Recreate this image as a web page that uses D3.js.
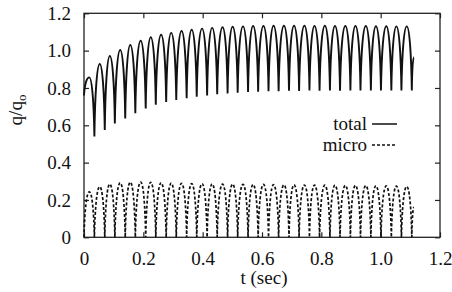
<!DOCTYPE html>
<html>
<head>
<meta charset="utf-8">
<script src="https://cdn.jsdelivr.net/npm/d3@7"></script>
<style>
  body { margin: 0; background: #fff; }
  svg text { font-family: 'Liberation Serif', 'Times New Roman', 'DejaVu Serif', serif; fill: #111; }
</style>
</head>
<body>
<div id="graf"></div>
<script>
// Datos
const xTicks = [0, 0.2, 0.4, 0.6, 0.8, 1.0, 1.2]
const xTickLabels = ["0", "0.2", "0.4", "0.6", "0.8", "1.0", "1.2"]
const yTicks = [0, 0.2, 0.4, 0.6, 0.8, 1.0, 1.2]
const yTickLabels = ["0", "0.2", "0.4", "0.6", "0.8", "1.0", "1.2"]

// tiempos de los máximos y mínimos de cada ciclo
const peakT = [0.018, 0.053, 0.087, 0.122, 0.156, 0.191, 0.225, 0.260, 0.294, 0.329, 0.363, 0.398,
  0.432, 0.467, 0.501, 0.536, 0.570, 0.605, 0.639, 0.674, 0.708, 0.743, 0.777, 0.812,
  0.846, 0.881, 0.915, 0.950, 0.984, 1.019, 1.053, 1.088]
const troughT = [0.035, 0.070, 0.104, 0.139, 0.173, 0.208, 0.242, 0.277, 0.311, 0.346, 0.380, 0.415,
  0.449, 0.484, 0.518, 0.553, 0.587, 0.622, 0.656, 0.691, 0.725, 0.760, 0.794, 0.829,
  0.863, 0.898, 0.932, 0.967, 1.001, 1.036, 1.070, 1.105]

// total
const totalStart = [0, 0.76]
const totalPeak = [0.857, 0.928, 0.971, 1.003, 1.030, 1.053, 1.072, 1.085, 1.095, 1.105, 1.112, 1.118,
  1.122, 1.125, 1.128, 1.130, 1.132, 1.132, 1.133, 1.133, 1.133, 1.133, 1.132, 1.133,
  1.132, 1.132, 1.132, 1.132, 1.131, 1.131, 1.130, 1.130]
const totalTrough = [0.540, 0.575, 0.610, 0.637, 0.664, 0.690, 0.710, 0.725, 0.735, 0.745, 0.753, 0.760,
  0.766, 0.771, 0.775, 0.778, 0.780, 0.782, 0.783, 0.785, 0.784, 0.786, 0.785, 0.786,
  0.785, 0.787, 0.786, 0.787, 0.786, 0.787, 0.786, 0.786]
const totalEnd = [1.112, 0.965]

// micro
const microStart = [0, 0]
const microPeak = [0.244, 0.271, 0.285, 0.292, 0.295, 0.296, 0.295, 0.292, 0.290, 0.289, 0.288, 0.287,
  0.286, 0.285, 0.285, 0.284, 0.283, 0.283, 0.282, 0.281, 0.281, 0.280, 0.280, 0.279,
  0.279, 0.278, 0.278, 0.277, 0.276, 0.275, 0.274, 0.272]
const microTrough = [0, 0, 0, 0, 0, 0, 0, 0, 0, 0, 0, 0, 0, 0, 0, 0,
  0, 0, 0, 0, 0, 0, 0, 0, 0, 0, 0, 0, 0, 0, 0, 0]
const microEnd = [1.112, 0.16]

// Configuración de tamaños
const ancho = 452
const alto = 292
const mIzq = 84, mDer = 440, mSup = 13.3, mInf = 237.3
const fuente = "'Liberation Serif', 'Times New Roman', 'DejaVu Serif', serif"

const svg = d3.select("#graf")
  .append("svg")
  .attr("width", ancho)
  .attr("height", alto)

const x = d3.scaleLinear().domain([0, 1.2]).range([mIzq, mDer])
const y = d3.scaleLinear().domain([0, 1.2]).range([mInf, mSup])

// Ejes (marcas hacia dentro, en los cuatro lados)
const fmtX = d => xTickLabels[xTicks.indexOf(d)]
const fmtY = d => yTickLabels[yTicks.indexOf(d)]

const gx = svg.append("g")
  .attr("transform", `translate(0, ${mInf})`)
  .call(d3.axisBottom(x).tickValues(xTicks).tickFormat(fmtX).tickSizeInner(-5).tickSizeOuter(0).tickPadding(14))
const gy = svg.append("g")
  .attr("transform", `translate(${mIzq}, 0)`)
  .call(d3.axisLeft(y).tickValues(yTicks).tickFormat(fmtY).tickSizeInner(-5).tickSizeOuter(0).tickPadding(13))
const gx2 = svg.append("g")
  .attr("transform", `translate(0, ${mSup})`)
  .call(d3.axisTop(x).tickValues(xTicks).tickFormat("").tickSizeInner(-5).tickSizeOuter(0))
const gy2 = svg.append("g")
  .attr("transform", `translate(${mDer}, 0)`)
  .call(d3.axisRight(y).tickValues(yTicks).tickFormat("").tickSizeInner(-5).tickSizeOuter(0))

for (const g of [gx, gy, gx2, gy2]) {
  g.attr("font-family", fuente).attr("font-size", 19)
  g.select(".domain").remove()
  g.selectAll("line").attr("stroke", "#222").attr("stroke-width", 1.2)
  g.selectAll("text").attr("fill", "#111")
}

svg.append("rect")
  .attr("x", mIzq).attr("y", mSup)
  .attr("width", mDer - mIzq).attr("height", mInf - mSup)
  .attr("fill", "none").attr("stroke", "#222").attr("stroke-width", 1.3)

// Curva en arcos: tangente casi vertical en los mínimos, horizontal en los máximos
function CurvaArco(context) { this._context = context }
CurvaArco.prototype = {
  areaStart() {}, areaEnd() {},
  lineStart() { this._n = 0 },
  lineEnd() {},
  point(px, py) {
    if (this._n++ === 0) { this._context.moveTo(px, py) }
    else {
      const x0 = this._x, y0 = this._y
      // en pantalla el máximo es el de menor y
      if (py < y0) {
        const dx = px - x0, dy = py - y0
        this._context.bezierCurveTo(x0 + 0.12 * dx, y0 + 0.6 * dy, px - 0.5 * dx, py, px, py)
      } else {
        const dx = px - x0, dy = py - y0
        this._context.bezierCurveTo(x0 + 0.5 * dx, y0, px - 0.12 * dx, py - 0.6 * dy, px, py)
      }
    }
    this._x = px; this._y = py
  }
}
const curvaArco = context => new CurvaArco(context)

function puntos(start, peaks, troughs, end) {
  const pts = [start]
  peakT.forEach((t, i) => {
    pts.push([t, peaks[i]])
    pts.push([troughT[i], troughs[i]])
  })
  pts.push(end)
  return pts
}

const linea = d3.line()
  .x(d => x(d[0]))
  .y(d => y(d[1]))
  .curve(curvaArco)

svg.append("path")
  .datum(puntos(totalStart, totalPeak, totalTrough, totalEnd))
  .attr("d", linea)
  .attr("fill", "none")
  .attr("stroke", "#111")
  .attr("stroke-width", 1.9)

svg.append("path")
  .datum(puntos(microStart, microPeak, microTrough, microEnd))
  .attr("d", linea)
  .attr("fill", "none")
  .attr("stroke", "#111")
  .attr("stroke-width", 1.7)
  .attr("stroke-dasharray", "3,2")

// Leyenda
const leyenda = [
  { nombre: "total", dash: null, yy: 124 },
  { nombre: "micro", dash: "3,2", yy: 145 }
]
leyenda.forEach(l => {
  svg.append("text")
    .attr("x", 367).attr("y", l.yy).attr("dy", "0.32em")
    .attr("text-anchor", "end")
    .attr("font-family", fuente).attr("font-size", 19)
    .text(l.nombre)
  svg.append("line")
    .attr("x1", 372).attr("x2", 397)
    .attr("y1", l.yy).attr("y2", l.yy)
    .attr("stroke", "#111").attr("stroke-width", 1.5)
    .attr("stroke-dasharray", l.dash)
})

// Títulos de ejes
svg.append("text")
  .attr("x", 264).attr("y", 284)
  .attr("text-anchor", "middle")
  .attr("font-family", fuente).attr("font-size", 19)
  .text("t (sec)")

const ylab = svg.append("text")
  .attr("transform", "translate(22, 110) rotate(-90)")
  .attr("text-anchor", "middle")
  .attr("font-family", fuente).attr("font-size", 19)
ylab.append("tspan").text("q/q")
ylab.append("tspan").attr("dy", "0.3em").attr("font-size", 13).text("o")
</script>
</body>
</html>
